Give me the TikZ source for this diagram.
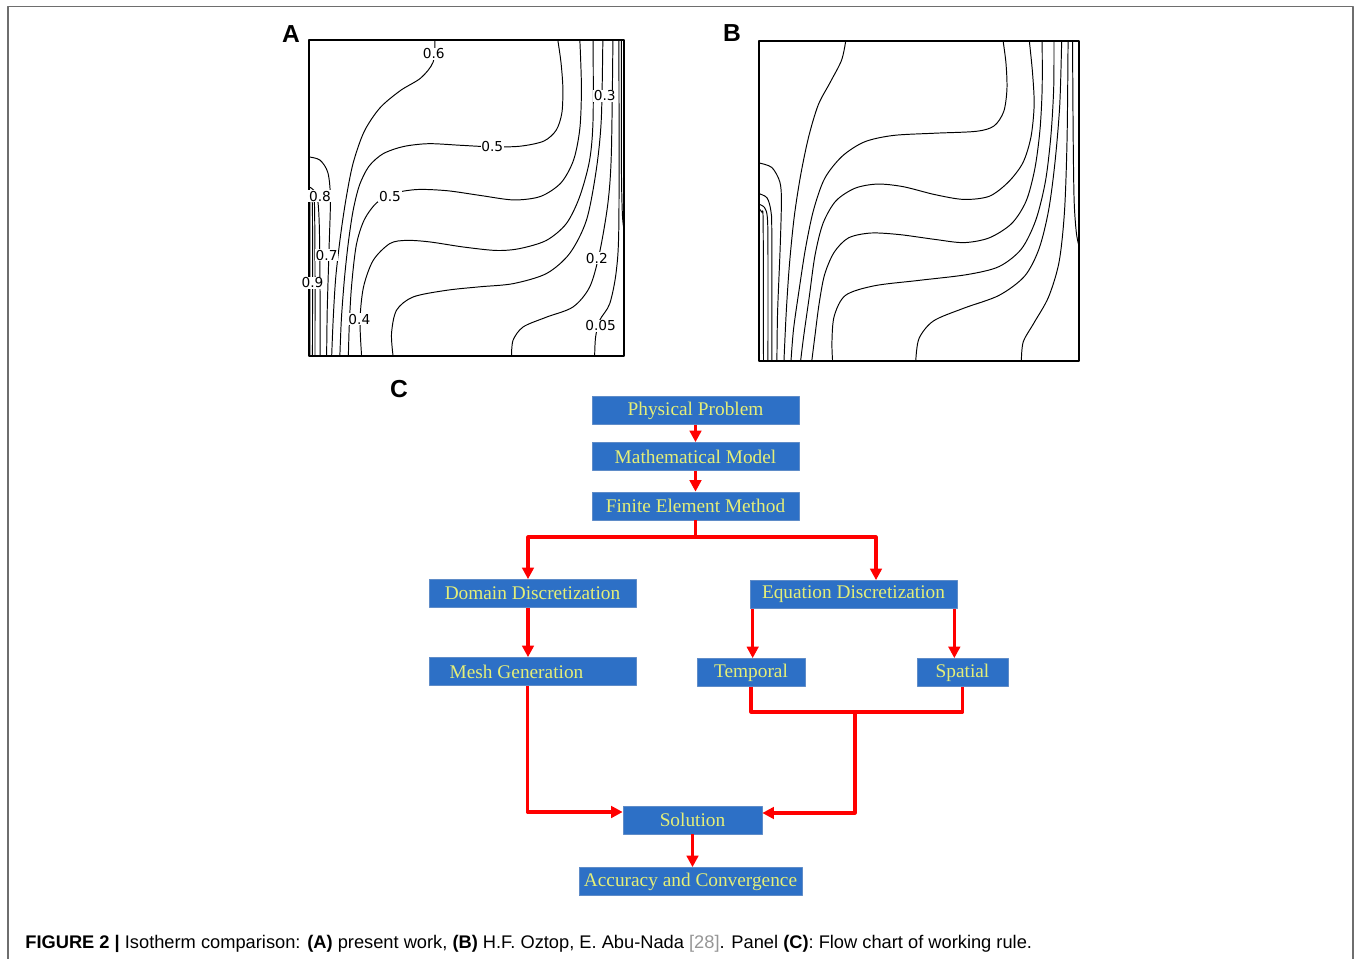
\documentclass[tikz,border=0pt]{standalone}
\usepackage{fontspec}
\setmainfont{Liberation Serif}
\setsansfont{Liberation Sans}
\newfontfamily\labfont{DejaVu Sans}
\usetikzlibrary{arrows.meta,calc}
\definecolor{boxblue}{RGB}{45,112,198}
\definecolor{boxedge}{RGB}{95,140,200}
\definecolor{boxtext}{RGB}{228,238,120}
\definecolor{framegray}{RGB}{110,110,110}
\definecolor{refgray}{RGB}{150,150,150}
\tikzset{
  fcbox/.style={draw=boxedge, line width=0.4pt, fill=boxblue, text=boxtext,
    font=\fontsize{11}{13}\selectfont, minimum height=0.56cm, inner sep=0pt},
  flow/.style={red, line width=1.8pt},
  iso/.style={line width=0.55pt},
  isolab/.style={fill=white, inner sep=0.4pt, font=\labfont\fontsize{7.8}{8}\selectfont},
  panel/.style={font=\sffamily\bfseries\fontsize{14}{16}\selectfont}
}
\begin{document}
\begin{tikzpicture}[x=0.02cm, y=-0.02cm, line join=round, >={Triangle[length=6.5pt,width=6.5pt]}]
\useasboundingbox (0,0) rectangle (1356,959);
\draw[framegray, line width=1.1pt] (8,959) -- (8,6.5) -- (1353,6.5) -- (1353,959);

% panel letters
\node[panel] (labA) at (291,34) {A};
\node[panel] (labB) at (732,33) {B};
\node[panel] (labC) at (399,389) {C};

% isotherms, present work
\begin{scope}[shift={(309,356)}, x=6.3cm, y=6.32cm]
  \begin{scope}
    \clip (0,0) rectangle (1,1);
    \draw[iso] plot[smooth, tension=0.5] coordinates {(0,0.49) (0.003,0.48) (0.003,0)};
    \draw[iso] plot[smooth, tension=0.5] coordinates {(0,0.505) (0.007,0.495) (0.011,0.45) (0.011,0)};
    \draw[iso] plot[smooth, tension=0.5] coordinates {(0,0.52) (0.01,0.515) (0.017,0.49) (0.019,0.3) (0.019,0)};
    \draw[iso] plot[smooth, tension=0.5] coordinates {(0,0.535) (0.015,0.525) (0.028,0.49) (0.033,0.4) (0.035,0.2) (0.035,0)};
    \draw[iso] plot[smooth, tension=0.5] coordinates {(0,0.63) (0.035,0.62) (0.06,0.58) (0.068,0.5) (0.064,0.35) (0.058,0.15) (0.056,0)};
    \draw[iso] plot[smooth, tension=0.5] coordinates {(0.4,1) (0.394,0.93) (0.355,0.88) (0.29,0.84) (0.225,0.785) (0.175,0.71) (0.14,0.61) (0.118,0.5) (0.1,0.38) (0.085,0.25) (0.077,0.12) (0.072,0)};
    \draw[iso] plot[smooth, tension=0.5] coordinates {(0.79,1) (0.8,0.93) (0.806,0.85) (0.803,0.77) (0.785,0.715) (0.745,0.68) (0.67,0.664) (0.58,0.662) (0.48,0.667) (0.38,0.672) (0.3,0.663) (0.235,0.64) (0.19,0.6) (0.16,0.54) (0.14,0.46) (0.125,0.36) (0.113,0.25) (0.103,0.12) (0.098,0)};
    \draw[iso] plot[smooth, tension=0.5] coordinates {(0.86,1) (0.865,0.85) (0.86,0.72) (0.84,0.62) (0.8,0.548) (0.735,0.505) (0.65,0.494) (0.545,0.508) (0.44,0.523) (0.345,0.527) (0.27,0.515) (0.215,0.485) (0.175,0.43) (0.15,0.35) (0.135,0.22) (0.128,0.1) (0.125,0)};
    \draw[iso] plot[smooth, tension=0.5] coordinates {(0.902,1) (0.902,0.75) (0.891,0.62) (0.859,0.503) (0.817,0.419) (0.754,0.366) (0.669,0.34) (0.595,0.334) (0.49,0.345) (0.384,0.361) (0.31,0.366) (0.257,0.356) (0.204,0.303) (0.173,0.218) (0.162,0.113) (0.167,0)};
    \draw[iso] plot[smooth, tension=0.5] coordinates {(0.933,1) (0.928,0.747) (0.912,0.588) (0.881,0.43) (0.828,0.325) (0.754,0.261) (0.648,0.229) (0.542,0.219) (0.437,0.208) (0.331,0.187) (0.278,0.145) (0.262,0.071) (0.267,0)};
    \draw[iso] plot[smooth, tension=0.5] coordinates {(0.643,0) (0.648,0.05) (0.68,0.092) (0.754,0.123) (0.838,0.155) (0.891,0.218) (0.922,0.324) (0.949,0.483) (0.96,0.641) (0.965,1)};
    \draw[iso] plot[smooth, tension=0.5] coordinates {(0.907,0) (0.91,0.06) (0.923,0.113) (0.955,0.166) (0.976,0.271) (0.984,0.43) (0.984,1)};
    \draw[iso] plot[smooth, tension=0.5] coordinates {(0.992,1) (0.992,0.6) (0.995,0.45) (1,0.4)};
  \end{scope}
  \draw[line width=0.8pt] (0,0) rectangle (1,1);
  \node[isolab] at (0.396,0.956) {0.6};
  \node[isolab] at (0.939,0.823) {0.3};
  \node[isolab] at (0.582,0.662) {0.5};
  \node[isolab] at (0.035,0.506) {0.8};
  \node[isolab] at (0.257,0.506) {0.5};
  \node[isolab] at (0.056,0.319) {0.7};
  \node[isolab] at (0.011,0.232) {0.9};
  \node[isolab] at (0.914,0.31) {0.2};
  \node[isolab] at (0.16,0.116) {0.4};
  \node[isolab] at (0.926,0.095) {0.05};
\end{scope}

% isotherms, Oztop and Abu-Nada
\begin{scope}[shift={(759,361)}, x=6.4cm, y=6.4cm]
  \begin{scope}
    \clip (0,0) rectangle (1,1);
    \draw[iso] plot[smooth, tension=0.5] coordinates {(0,0.475) (0.009,0.465) (0.013,0.43) (0.014,0)};
    \draw[iso] plot[smooth, tension=0.5] coordinates {(0,0.49) (0.017,0.48) (0.026,0.45) (0.028,0.35) (0.028,0)};
    \draw[iso] plot[smooth, tension=0.5] coordinates {(0,0.523) (0.025,0.51) (0.037,0.47) (0.04,0.4) (0.04,0)};
    \draw[iso] plot[smooth, tension=0.5] coordinates {(0,0.619) (0.04,0.605) (0.065,0.56) (0.07,0.5) (0.066,0.35) (0.058,0.15) (0.056,0)};
    \draw[iso] plot[smooth, tension=0.5] coordinates {(0.271,1) (0.258,0.94) (0.222,0.87) (0.185,0.8) (0.155,0.7) (0.13,0.58) (0.11,0.45) (0.095,0.3) (0.085,0.15) (0.078,0)};
    \draw[iso] plot[smooth, tension=0.5] coordinates {(0.763,1) (0.772,0.93) (0.775,0.85) (0.765,0.78) (0.735,0.735) (0.68,0.718) (0.55,0.712) (0.42,0.705) (0.33,0.685) (0.26,0.64) (0.205,0.57) (0.17,0.47) (0.145,0.35) (0.125,0.22) (0.108,0.1) (0.1,0)};
    \draw[iso] plot[smooth, tension=0.5] coordinates {(0.845,1) (0.855,0.9) (0.86,0.8) (0.85,0.7) (0.825,0.62) (0.78,0.56) (0.72,0.515) (0.64,0.505) (0.55,0.52) (0.45,0.545) (0.37,0.553) (0.3,0.54) (0.24,0.5) (0.2,0.43) (0.175,0.33) (0.157,0.2) (0.14,0.08) (0.13,0)};
    \draw[iso] plot[smooth, tension=0.5] coordinates {(0.885,1) (0.885,0.85) (0.878,0.72) (0.862,0.6) (0.835,0.5) (0.79,0.43) (0.72,0.385) (0.64,0.37) (0.55,0.38) (0.44,0.395) (0.35,0.4) (0.28,0.385) (0.235,0.34) (0.205,0.27) (0.188,0.18) (0.175,0.08) (0.165,0)};
    \draw[iso] plot[smooth, tension=0.5] coordinates {(0.922,1) (0.921,0.85) (0.912,0.7) (0.895,0.56) (0.865,0.44) (0.82,0.35) (0.75,0.295) (0.65,0.27) (0.5,0.252) (0.36,0.235) (0.27,0.205) (0.235,0.14) (0.228,0.06) (0.23,0)};
    \draw[iso] plot[smooth, tension=0.5] coordinates {(0.49,0) (0.5,0.07) (0.545,0.125) (0.64,0.165) (0.75,0.205) (0.83,0.265) (0.875,0.35) (0.905,0.47) (0.925,0.62) (0.94,0.8) (0.946,1)};
    \draw[iso] plot[smooth, tension=0.5] coordinates {(0.82,0) (0.826,0.06) (0.86,0.12) (0.905,0.2) (0.938,0.31) (0.955,0.47) (0.963,0.7) (0.966,1)};
    \draw[iso] plot[smooth, tension=0.5] coordinates {(0.98,1) (0.982,0.7) (0.985,0.5) (0.992,0.4) (1,0.36)};
  \end{scope}
  \draw[line width=0.8pt] (0,0) rectangle (1,1);
\end{scope}

% flow chart
\node[fcbox, minimum width=4.14cm] (phys) at (695.5,410.5) {Physical Problem};
\node[fcbox, minimum width=4.14cm] (math) at (695.5,456.5) {Mathematical Model};
\node[fcbox, minimum width=4.14cm] (fem) at (695.5,506) {Finite Element Method};
\node[fcbox, minimum width=4.14cm] (dom) at (532.5,593.5) {Domain Discretization};
\node[fcbox, minimum width=4.14cm] (eqn) at (853.5,594.5) {Equation Discretization};
\node[fcbox, minimum width=4.14cm] (mesh) at (532.5,671.5) {Mesh Generation\hspace*{0.64cm}};
\node[fcbox, minimum width=2.16cm] (temp) at (751,672.5) {Temporal};
\node[fcbox, minimum width=1.82cm] (spat) at (962.5,672.5) {Spatial};
\node[fcbox, minimum width=2.78cm] (sol) at (692.5,820) {Solution};
\node[fcbox, minimum width=4.46cm] (acc) at (690.5,881.5) {Accuracy and Convergence};

\coordinate (fork) at (695.5,537);
\coordinate (join) at (855,712);
\draw[flow,->] (phys) -- (math);
\draw[flow,->] (math) -- (fem);
\draw[flow] (fem) -- (fork);
\draw[flow,->] (fork) -| ($(dom.north)+(-4.5,0)$);
\draw[flow,->] (fork) -| ($(eqn.north)+(22.5,0)$);
\draw[flow,->] ($(dom.south)+(-4.5,0)$) -- ($(mesh.north)+(-4.5,0)$);
\draw[flow,->] ($(eqn.south west)+(3,0)$) coordinate (et) -- (et |- temp.north);
\draw[flow,->] ($(eqn.south east)+(-3,0)$) coordinate (es) -- (es |- spat.north);
\draw[flow] (temp.south) |- (join) -| (spat.south);
\draw[flow,->] (join) |- ($(sol.east)+(0,-7)$);
\draw[flow,->] ($(mesh.south)+(-5,0)$) |- ($(sol.west)+(0,-8)$);
\draw[flow,->] (sol.south) -- (sol.south |- acc.north);

% caption
\node[anchor=base west, inner sep=0pt, font=\sffamily\fontsize{10.4}{12}\selectfont] (cap) at (25,948)
  {\textbf{FIGURE 2 |} Isotherm comparison: \textbf{(A)} present work, \textbf{(B)} H.F. Oztop, E. Abu-Nada \textcolor{refgray}{[28]}. Panel \textbf{(C)}: Flow chart of working rule.};
\end{tikzpicture}
\end{document}
